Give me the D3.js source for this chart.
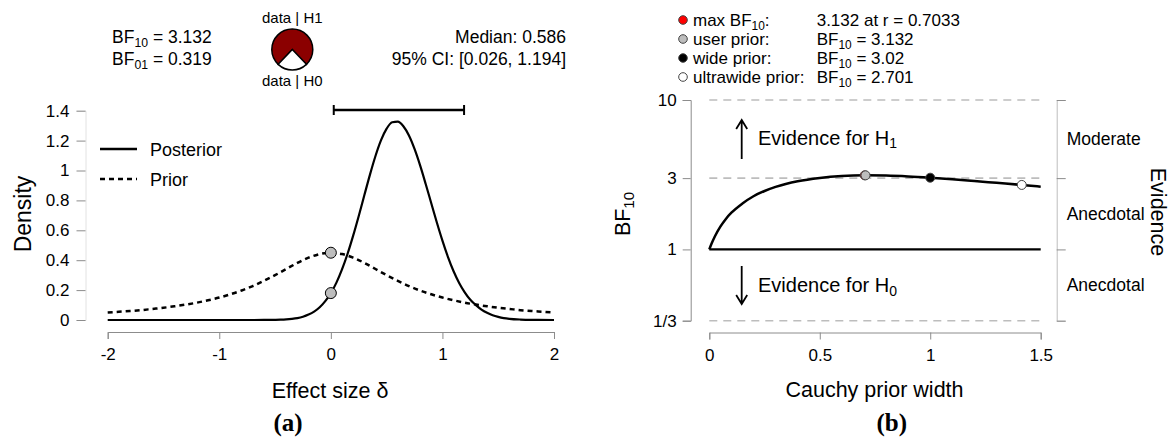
<!DOCTYPE html>
<html>
<head>
<meta charset="utf-8">
<script src="https://cdn.jsdelivr.net/npm/d3@7"></script>
<style>
  body { margin: 0; background: #fff; }
  svg { font-family: "Liberation Sans", Arial, sans-serif; }
</style>
</head>
<body>
<div id="chart"></div>
<script>
// ---- panel (a): prior / posterior of effect size ----
const priorDelta = [-2, -1.9, -1.8, -1.7, -1.6, -1.5, -1.4, -1.3, -1.2, -1.1, -1, -0.9, -0.8, -0.7, -0.6, -0.5, -0.4, -0.3, -0.2, -0.1,
  0, 0.1, 0.2, 0.3, 0.4, 0.5, 0.6, 0.7, 0.8, 0.9, 1, 1.1, 1.2, 1.3, 1.4, 1.5, 1.6, 1.7, 1.8, 1.9, 2];
const priorDensity = [0.050, 0.055, 0.060, 0.066, 0.074, 0.082, 0.092, 0.103, 0.116, 0.132, 0.150, 0.172, 0.197, 0.227, 0.262, 0.300, 0.341, 0.382, 0.417, 0.441,
  0.450, 0.441, 0.417, 0.382, 0.341, 0.300, 0.262, 0.227, 0.197, 0.172, 0.150, 0.132, 0.116, 0.103, 0.092, 0.082, 0.074, 0.066, 0.060, 0.055, 0.050];
const postDelta = [-2, -1, -0.6, -0.5, -0.45, -0.4, -0.35, -0.3, -0.25, -0.2, -0.15, -0.1, -0.05, 0, 0.05, 0.1, 0.15, 0.2, 0.25, 0.3, 0.35, 0.4, 0.45, 0.5, 0.55, 0.6,
  0.65, 0.7, 0.75, 0.8, 0.85, 0.9, 0.95, 1, 1.05, 1.1, 1.15, 1.2, 1.25, 1.3, 1.35, 1.4, 1.45, 1.5, 1.55, 1.6, 1.7, 1.8, 2];
const postDensity = [0, 0, 0.0002, 0.0013, 0.0024, 0.0044, 0.0078, 0.013, 0.022, 0.036, 0.056, 0.085, 0.126, 0.180, 0.250, 0.338, 0.443, 0.564, 0.696, 0.834, 0.971, 1.097, 1.203, 1.280, 1.323, 1.327,
  1.296, 1.234, 1.144, 1.034, 0.910, 0.781, 0.652, 0.531, 0.421, 0.326, 0.248, 0.185, 0.135, 0.100, 0.070, 0.048, 0.032, 0.021, 0.013, 0.008, 0.003, 0.001, 0];
const pointsAtZero = [0.450, 0.180];
const densityTicks = [0, 0.2, 0.4, 0.6, 0.8, 1, 1.2, 1.4];
const deltaTicks = [-2, -1, 0, 1, 2];
const bf10 = 3.132, bf01 = 0.319;
const median = 0.586, ci = [0.026, 1.194];

// ---- panel (b): robustness check ----
const priorWidth = [0, 0.01, 0.025, 0.05, 0.075, 0.1, 0.15, 0.2, 0.25, 0.3, 0.4, 0.5, 0.6, 0.7033, 0.8, 0.9, 1, 1.1, 1.2, 1.3, 1.414, 1.5];
const bfCurve = [1, 1.09, 1.22, 1.42, 1.6, 1.76, 2.03, 2.27, 2.46, 2.62, 2.86, 3.01, 3.10, 3.132, 3.12, 3.08, 3.02, 2.95, 2.87, 2.79, 2.701, 2.63];
const markWidth = [0.7033, 0.7071, 1, 1.4142];
const markBF = [3.132, 3.132, 3.02, 2.701];
const markFill = ["#ff0000", "#bdbdbd", "#000000", "#ffffff"];
const legendNames = ["max BF", "user prior:", "wide prior:", "ultrawide prior:"];
const legendValues = ["3.132 at r = 0.7033", "= 3.132", "= 3.02", "= 2.701"];
const bfTicks = [1 / 3, 1, 3, 10];
const bfTickLabels = ["1/3", "1", "3", "10"];
const widthTicks = [0, 0.5, 1, 1.5];
const evidenceLabels = ["Moderate", "Anecdotal", "Anecdotal"];
const evidenceBands = [[3, 10], [1, 3], [1 / 3, 1]];

const W = 1174, H = 439;
const svg = d3.select('#chart').append('svg').attr('width', W).attr('height', H);
const axisGrey = '#8c8c8c';

// text helper with subscripts: parts = [[text, isSub], ...]
function richText(g, x, y, parts, size, anchor) {
  const t = g.append('text').attr('x', x).attr('y', y).attr('font-size', size)
    .attr('text-anchor', anchor || 'start').attr('fill', '#000');
  let shift = 0;
  parts.forEach(([s, sub]) => {
    const target = sub ? 3.5 : 0;
    t.append('tspan').text(s).attr('dy', target - shift).attr('font-size', sub ? size * 0.7 : size);
    shift = target;
  });
  return t;
}

// ================= panel (a) =================
const xL = d3.scaleLinear().domain([-2, 2]).range([107.7, 554]);
const yL = d3.scaleLinear().domain([0, 1.4]).range([320, 110.7]);
const gA = svg.append('g');

const xAxisA = gA.append('g').attr('transform', 'translate(0,332)')
  .call(d3.axisBottom(xL).tickValues(deltaTicks).tickSize(7).tickPadding(9).tickFormat(d => String(d)));
const yAxisA = gA.append('g').attr('transform', 'translate(85.5,0)')
  .call(d3.axisLeft(yL).tickValues(densityTicks).tickSize(9).tickPadding(7).tickFormat(d => String(+d.toFixed(1))));
[xAxisA, yAxisA].forEach(a => {
  a.selectAll('path, line').attr('stroke', axisGrey);
  a.selectAll('text').attr('font-size', 17).attr('fill', '#000').attr('font-family', null);
});
yAxisA.select('.domain').attr('stroke', '#e2e2e2');

const lineA = d3.line().x(d => xL(d[0])).y(d => yL(d[1])).curve(d3.curveMonotoneX);
gA.append('path').datum(d3.zip(priorDelta, priorDensity)).attr('d', lineA)
  .attr('fill', 'none').attr('stroke', '#000').attr('stroke-width', 2.5).attr('stroke-dasharray', '5,4');
gA.append('path').datum(d3.zip(postDelta, postDensity)).attr('d', lineA)
  .attr('fill', 'none').attr('stroke', '#000').attr('stroke-width', 2.2);
gA.selectAll('circle.pz').data(pointsAtZero).join('circle').attr('class', 'pz')
  .attr('cx', xL(0)).attr('cy', d => yL(d)).attr('r', 5.5)
  .attr('fill', '#bdbdbd').attr('stroke', '#000').attr('stroke-width', 1);

// credible interval bar
const ciY = 110;
gA.append('line').attr('x1', xL(ci[0])).attr('x2', xL(ci[1])).attr('y1', ciY).attr('y2', ciY)
  .attr('stroke', '#000').attr('stroke-width', 2.5);
ci.forEach(c => gA.append('line').attr('x1', xL(c)).attr('x2', xL(c)).attr('y1', ciY - 5).attr('y2', ciY + 5)
  .attr('stroke', '#000').attr('stroke-width', 2));

// legend
[['Posterior', null, 149], ['Prior', '5,4', 179]].forEach(([lab, dash, y]) => {
  gA.append('line').attr('x1', 100).attr('x2', 137).attr('y1', y).attr('y2', y)
    .attr('stroke', '#000').attr('stroke-width', 2.3).attr('stroke-dasharray', dash);
  gA.append('text').text(lab).attr('x', 150).attr('y', y + 6.5).attr('font-size', 18);
});

// titles
gA.append('text').text('Effect size δ').attr('x', 330).attr('y', 398).attr('text-anchor', 'middle').attr('font-size', 21.5);
gA.append('text').text('Density').attr('transform', 'translate(31,214) rotate(-90)').attr('text-anchor', 'middle').attr('font-size', 23);
gA.append('text').text('(a)').attr('x', 288).attr('y', 431).attr('text-anchor', 'middle')
  .attr('font-size', 25).attr('font-weight', 'bold').attr('font-family', '"Liberation Serif", "Times New Roman", serif');

// header
richText(gA, 112, 43, [['BF'], ['10', true], [' = ' + bf10.toFixed(3)]], 17.5);
richText(gA, 112, 65, [['BF'], ['01', true], [' = ' + bf01.toFixed(3)]], 17.5);
gA.append('text').text('Median: ' + median.toFixed(3)).attr('x', 566).attr('y', 43).attr('text-anchor', 'end').attr('font-size', 17.5);
gA.append('text').text('95% CI: [' + ci[0].toFixed(3) + ', ' + ci[1].toFixed(3) + ']').attr('x', 566).attr('y', 65).attr('text-anchor', 'end').attr('font-size', 17.5);

// pie of P(data|H1) vs P(data|H0)
const p0 = 1 / (1 + bf10);
const a0 = 2 * Math.PI * p0;
const pie = d3.pie().sort(null).startAngle(Math.PI + a0 / 2).endAngle(3 * Math.PI + a0 / 2);
const arc = d3.arc().innerRadius(0).outerRadius(20.5);
const pieG = gA.append('g').attr('transform', 'translate(292.3,49.5)');
pieG.selectAll('path').data(pie([1 - p0, p0])).join('path').attr('d', arc)
  .attr('fill', (d, i) => i === 0 ? '#8b0000' : '#ffffff').attr('stroke', '#000').attr('stroke-width', 1.5);
gA.append('text').text('data | H1').attr('x', 292.3).attr('y', 22.5).attr('text-anchor', 'middle').attr('font-size', 15);
gA.append('text').text('data | H0').attr('x', 292.3).attr('y', 86).attr('text-anchor', 'middle').attr('font-size', 15);

// ================= panel (b) =================
const xR = d3.scaleLinear().domain([0, 1.5]).range([709.3, 1040.7]);
const yR = d3.scaleLog().domain([1 / 3, 10]).range([320.7, 100]);
const gB = svg.append('g');

const xAxisB = gB.append('g').attr('transform', 'translate(0,332.5)')
  .call(d3.axisBottom(xR).tickValues(widthTicks).tickSize(7).tickPadding(9).tickFormat(d => String(d)));
const yAxisB = gB.append('g').attr('transform', 'translate(690.7,0)')
  .call(d3.axisLeft(yR).tickValues(bfTicks).tickSize(8).tickPadding(6).tickFormat((d, i) => bfTickLabels[i]));
const y2AxisB = gB.append('g').attr('transform', 'translate(1056.7,0)')
  .call(d3.axisRight(yR).tickValues(bfTicks).tickSize(9).tickFormat(''));
[xAxisB, yAxisB, y2AxisB].forEach(a => {
  a.selectAll('path, line').attr('stroke', axisGrey);
  a.selectAll('text').attr('font-size', 17).attr('fill', '#000').attr('font-family', null);
});
y2AxisB.select('.domain').attr('stroke', '#bdbdbd');

// reference lines
[10, 3, 1 / 3].forEach(v => gB.append('line').attr('x1', xR(0)).attr('x2', xR(1.5)).attr('y1', yR(v)).attr('y2', yR(v))
  .attr('stroke', '#bdbdbd').attr('stroke-width', 1.6).attr('stroke-dasharray', '8,6'));
gB.append('line').attr('x1', xR(0)).attr('x2', xR(1.5)).attr('y1', yR(1)).attr('y2', yR(1))
  .attr('stroke', '#000').attr('stroke-width', 2.3);

const lineB = d3.line().x(d => xR(d[0])).y(d => yR(d[1])).curve(d3.curveMonotoneX);
gB.append('path').datum(d3.zip(priorWidth, bfCurve)).attr('d', lineB)
  .attr('fill', 'none').attr('stroke', '#000').attr('stroke-width', 2.5);
gB.selectAll('circle.mk').data(d3.range(markWidth.length)).join('circle').attr('class', 'mk')
  .attr('cx', i => xR(markWidth[i])).attr('cy', i => yR(markBF[i])).attr('r', 4.5)
  .attr('fill', i => markFill[i]).attr('stroke', '#444').attr('stroke-width', 1);

// evidence arrows
function arrow(x, yFrom, yTo) {
  const dir = yTo < yFrom ? 1 : -1;
  gB.append('path').attr('d', `M${x},${yFrom} L${x},${yTo} M${x - 5.5},${yTo + dir * 9} L${x},${yTo} L${x + 5.5},${yTo + dir * 9}`)
    .attr('fill', 'none').attr('stroke', '#000').attr('stroke-width', 1.8);
}
arrow(741.7, 159, 120);
arrow(741.7, 266, 304);
richText(gB, 758, 144.5, [['Evidence for H'], ['1', true]], 20);
richText(gB, 758, 292, [['Evidence for H'], ['0', true]], 20);

// evidence categories on right axis
evidenceLabels.forEach((lab, i) => {
  const mid = Math.sqrt(evidenceBands[i][0] * evidenceBands[i][1]);
  gB.append('text').text(lab).attr('x', 1066.7).attr('y', yR(mid) + 6).attr('font-size', 17.5);
});
gB.append('text').text('Evidence').attr('transform', 'translate(1151,212) rotate(90)').attr('text-anchor', 'middle').attr('font-size', 21.5);
const bfTitle = svg.append('g').attr('transform', 'translate(630,206) rotate(-90)');
richText(bfTitle, -8, 0, [['BF'], ['10', true]], 21.5, 'middle');

// x title + label
gB.append('text').text('Cauchy prior width').attr('x', 874.5).attr('y', 397).attr('text-anchor', 'middle').attr('font-size', 21.5);
gB.append('text').text('(b)').attr('x', 891.7).attr('y', 431).attr('text-anchor', 'middle')
  .attr('font-size', 25).attr('font-weight', 'bold').attr('font-family', '"Liberation Serif", "Times New Roman", serif');

// legend top right
const legRowY = [20, 39, 58, 77];
legendNames.forEach((name, i) => {
  const y = legRowY[i];
  gB.append('circle').attr('cx', 683).attr('cy', y).attr('r', 4.3)
    .attr('fill', markFill[i]).attr('stroke', '#444').attr('stroke-width', 1);
  if (i === 0) {
    richText(gB, 693, y + 6, [['max BF'], ['10', true], [':']], 17);
    gB.append('text').text(legendValues[i]).attr('x', 816.7).attr('y', y + 6).attr('font-size', 17);
  } else {
    gB.append('text').text(name).attr('x', 693).attr('y', y + 6).attr('font-size', 17);
    richText(gB, 816.7, y + 6, [['BF'], ['10', true], [' ' + legendValues[i]]], 17);
  }
});
</script>
</body>
</html>
